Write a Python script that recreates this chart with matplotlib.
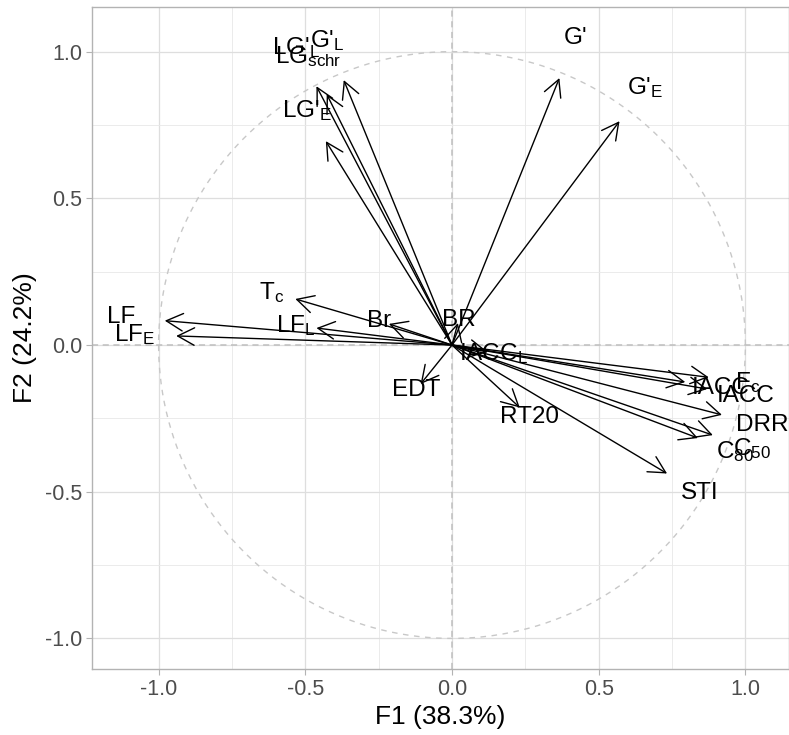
import numpy as np
import matplotlib
matplotlib.use("Agg")
import matplotlib.pyplot as plt
from matplotlib.ticker import FixedLocator, FuncFormatter

plt.rcParams['font.family'] = ['Liberation Sans', 'DejaVu Sans']
plt.rcParams['mathtext.default'] = 'regular'

# --- variable coordinates on the first two dimensions (arrow tips) ---
labels = ["G'", "G'$_{E}$", "G'$_{L}$", "LG'$_{L}$", "LG$_{schr}$", "LG'$_{E}$",
          "T$_{c}$", "LF", "LF$_{E}$", "LF$_{L}$", "Br", "BR", "IACC$_{L}$",
          "EDT", "RT20", "IACC", "F$_{c}$", "IACC", "DRR", "C$_{50}$", "C$_{80}$", "STI"]
f1 = [0.366, 0.571, -0.369, -0.462, -0.427, -0.430,
      -0.534, -0.979, -0.940, -0.462, -0.215, 0.020, 0.122,
      -0.107, 0.231, 0.795, 0.875, 0.870, 0.920, 0.889, 0.838, 0.733]
f2 = [0.910, 0.763, 0.903, 0.882, 0.855, 0.695,
      0.157, 0.083, 0.031, 0.058, 0.072, 0.075, -0.024,
      -0.133, -0.213, -0.126, -0.110, -0.150, -0.238, -0.307, -0.317, -0.438]

xlab = "F1 (38.3%)"
ylab = "F2 (24.2%)"
ticks = [-1.0, -0.5, 0.0, 0.5, 1.0]

fig = plt.figure(figsize=(7.89, 7.35), dpi=100)
ax = fig.add_axes([0.1166, 0.0898, 0.8834, 0.9007])
ax.set_xlim(-1.227, 1.1486)
ax.set_ylim(-1.104, 1.152)
ax.set_aspect("equal", adjustable="box")

# grid like theme_light
ax.xaxis.set_major_locator(FixedLocator(ticks))
ax.yaxis.set_major_locator(FixedLocator(ticks))
ax.xaxis.set_minor_locator(FixedLocator([-1.25, -0.75, -0.25, 0.25, 0.75]))
ax.yaxis.set_minor_locator(FixedLocator([-0.75, -0.25, 0.25, 0.75]))
ax.grid(True, which="major", color="#DEDEDE", lw=0.9)
ax.grid(True, which="minor", color="#E8E8E8", lw=0.6)
ax.set_axisbelow(True)
fmt = FuncFormatter(lambda v, p: f"{v:.1f}".replace("\u2212", "-"))
ax.xaxis.set_major_formatter(fmt)
ax.yaxis.set_major_formatter(fmt)
ax.tick_params(which="major", length=4, width=0.8, color="#B3B3B3",
               labelsize=15.5, labelcolor="#4D4D4D", pad=3)
ax.tick_params(which="minor", length=0)
for s in ax.spines.values():
    s.set_color("#B3B3B3")
    s.set_linewidth(1.0)

# correlation circle and zero lines
t = np.linspace(0, 2 * np.pi, 400)
ax.plot(np.cos(t), np.sin(t), color="#C8C8C8", ls=(0, (4, 4)), lw=1.0, zorder=1)
ax.axhline(0, color="#BFBFBF", ls=(0, (4, 3)), lw=1.1, zorder=1)
ax.axvline(0, color="#BFBFBF", ls=(0, (4, 3)), lw=1.1, zorder=1)

# arrows and labels
for lab, x, y in zip(labels, f1, f2):
    ax.annotate("", xy=(x, y), xytext=(0, 0),
                arrowprops=dict(arrowstyle="->,head_length=0.8,head_width=0.42",
                                color="black", lw=1.0, shrinkA=0, shrinkB=0,
                                mutation_scale=15), zorder=3)
    ax.text(x * 1.15, y * 1.15, lab, ha="center", va="center",
            fontsize=17.5, color="black", zorder=4)

ax.set_xlabel(xlab, fontsize=19, labelpad=4)
ax.set_ylabel(ylab, fontsize=19, labelpad=6)

fig.savefig("out.png", dpi=100)
